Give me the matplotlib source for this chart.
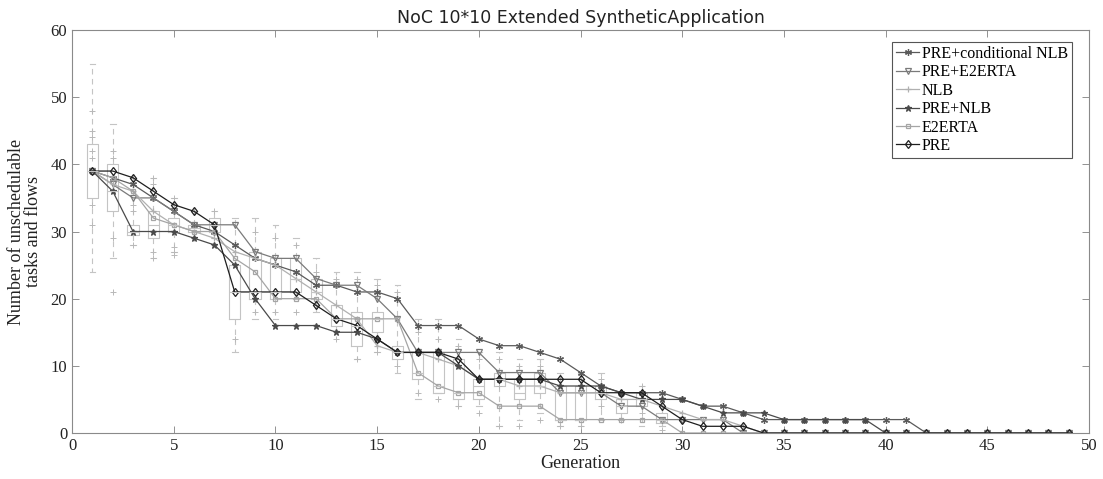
import numpy as np
import matplotlib
matplotlib.use("Agg")
import matplotlib.pyplot as plt

# ---- data -------------------------------------------------------------
generations = list(range(1, 50))

pre_cond_nlb = [39, 38, 37, 35, 33, 31, 30, 28, 26, 25, 24, 22, 22, 21, 21, 20, 16, 16, 16, 14,
                13, 13, 12, 11, 9, 7, 6, 6, 6, 5, 4, 4, 3, 2, 2, 2, 2, 2, 2, 2,
                2, 0, 0, 0, 0, 0, 0, 0, 0]
pre_e2erta = [39, 37, 35, 35, 33, 31, 31, 31, 27, 26, 26, 23, 22, 22, 20, 17, 12, 12, 12, 12,
              9, 9, 9, 6, 6, 6, 4, 4, 2, 2, 2, 2, 0, 0, 0, 0, 0, 0, 0, 0,
              0, 0, 0, 0, 0, 0, 0, 0, 0]
nlb = [39, 37, 36, 33, 31, 30, 29, 27, 26, 25, 23, 21, 19, 17, 13, 12, 12, 11, 10, 8,
       8, 7, 7, 6, 6, 6, 5, 5, 4, 3, 2, 2, 1, 0, 0, 0, 0, 0, 0, 0,
       0, 0, 0, 0, 0, 0, 0, 0, 0]
pre_nlb = [39, 36, 30, 30, 30, 29, 28, 25, 20, 16, 16, 16, 15, 15, 14, 12, 12, 12, 10, 8,
           8, 8, 8, 7, 7, 7, 6, 5, 5, 5, 4, 3, 3, 3, 2, 2, 2, 2, 2, 0,
           0, 0, 0, 0, 0, 0, 0, 0, 0]
e2erta = [39, 38, 36, 32, 31, 30, 30, 26, 24, 20, 20, 20, 17, 17, 17, 17, 9, 7, 6, 6,
          4, 4, 4, 2, 2, 2, 2, 2, 2, 0, 0, 0, 0, 0, 0, 0, 0, 0, 0, 0,
          0, 0, 0, 0, 0, 0, 0, 0, 0]
pre = [39, 39, 38, 36, 34, 33, 31, 21, 21, 21, 21, 19, 17, 16, 14, 12, 12, 12, 11, 8,
       8, 8, 8, 8, 8, 6, 6, 6, 4, 2, 1, 1, 1, 0, 0, 0, 0, 0, 0, 0,
       0, 0, 0, 0, 0, 0, 0, 0, 0]

# per-generation spread of the runs (box statistics)
box_gen = list(range(1, 30))
box_lo = [24, 26, 28, 26, 27, 29, 28, 12, 17, 17, 20, 18, 15, 11, 12, 9, 5, 6, 4, 4,
          1, 2, 3, 1, 1, 2, 2, 1, 1]
box_q1 = [35, 33, 29.5, 29, 30, 30, 30, 17, 20, 20, 21, 20, 16, 13, 15, 11, 8, 6, 5, 5,
          7, 5, 6, 2, 2, 5, 3, 4, 1.5]
box_med = [39, 36, 30, 31, 31, 30.5, 31, 21, 21, 21, 23, 21, 17, 16, 17, 12, 9, 7, 6, 7,
           8, 6, 7, 2, 2, 6, 4, 5, 2]
box_q3 = [43, 40, 31, 33, 32, 31, 32, 25, 27, 26, 26, 23, 19, 18, 18, 13, 12, 12, 11, 8,
          9, 8, 9, 7, 7, 7, 5, 6, 3]
box_hi = [55, 46, 38, 38, 35, 33, 33, 32, 32, 31, 29, 26, 24, 24, 23, 22, 17, 17, 14, 12,
          12, 11, 11, 9, 9, 9, 6, 7, 5]
box_out = [[48, 45, 44, 42, 41, 34, 31], [42, 41, 29, 21], [38, 34, 33, 28], [38, 37, 27, 26],
           [35, 34, 27.7, 27, 26.5], [33, 29], [33, 29], [28, 14], [30, 18], [29, 18],
           [28, 24, 18], [24, 19], [23, 14], [23, 11], [22, 12], [21, 10], [15, 6], [14, 5],
           [13, 4], [11, 3], [11, 7, 1], [10, 1], [10, 2], [8, 1], [8, 1], [8, 4], [6, 2],
           [7, 3], [4, 0.5]]

series_names = ["PRE+conditional NLB", "PRE+E2ERTA", "NLB", "PRE+NLB", "E2ERTA", "PRE"]

# ---- figure -------------------------------------------------------------
plt.rcParams["font.family"] = ["Liberation Serif", "DejaVu Serif"]
fig = plt.figure(figsize=(11.03, 4.79), dpi=100)
ax = fig.add_axes([0.0653, 0.096, 0.922, 0.8414])

stats = []
for lo, q1, md, q3, hi, out in zip(box_lo, box_q1, box_med, box_q3, box_hi, box_out):
    stats.append(dict(med=md, q1=q1, q3=q3, whislo=lo, whishi=hi, fliers=out))
box_col = "#c4c4c4"
ax.bxp(stats, positions=box_gen, widths=0.55, showfliers=True, manage_ticks=False,
       boxprops=dict(color=box_col, linewidth=0.8),
       medianprops=dict(color=box_col, linewidth=0.8),
       whiskerprops=dict(color=box_col, linewidth=0.8, linestyle=(0, (5, 4))),
       capprops=dict(color=box_col, linewidth=0.8),
       flierprops=dict(marker="+", markersize=5, markeredgecolor="#b8b8b8",
                       markeredgewidth=0.7, linestyle="none"))

asterisk = (6, 2, 0)
styles = [
    (pre_cond_nlb, "#5a5a5a", asterisk, 5),
    (pre_e2erta, "#7a7a7a", "v", 4.5),
    (nlb, "#b0b0b0", "+", 5),
    (pre_nlb, "#4a4a4a", "*", 5),
    (e2erta, "#a5a5a5", "s", 3.5),
    (pre, "#1e1e1e", "d", 4.5),
]
for name, (vals, col, mk, ms) in zip(series_names, styles):
    ax.plot(generations, vals, color=col, marker=mk, markersize=ms, linewidth=0.9,
            markerfacecolor="none" if mk in ("v", "s", "d") else col,
            markeredgecolor=col, markeredgewidth=0.9, label=name)

ax.set_xlim(0, 50)
ax.set_ylim(0, 60)
ax.set_xticks(range(0, 51, 5))
ax.set_yticks(range(0, 61, 10))
ax.tick_params(direction="in", length=5, width=0.6, colors="#808080",
               labelcolor="#222222", labelsize=12, top=True, right=True)
for sp in ax.spines.values():
    sp.set_color("#8a8a8a")
    sp.set_linewidth(0.8)

ax.set_title("NoC 10*10 Extended SyntheticApplication", fontsize=12.5,
             family=["DejaVu Sans"], color="#222222", pad=5)
ax.set_xlabel("Generation", fontsize=13, color="#222222", labelpad=1)
ax.set_ylabel("Number of unschedulable\ntasks and flows", fontsize=13, color="#222222",
              labelpad=6, linespacing=1.0)

leg = ax.legend(loc="upper right", bbox_to_anchor=(0.9833, 0.97), fontsize=11.5,
                handlelength=1.5, handletextpad=0.15, borderpad=0.25, labelspacing=0.15,
                borderaxespad=0.0, fancybox=False, framealpha=1)
leg.get_frame().set_edgecolor("#555555")
leg.get_frame().set_linewidth(0.8)

fig.savefig("out.png", dpi=100)
